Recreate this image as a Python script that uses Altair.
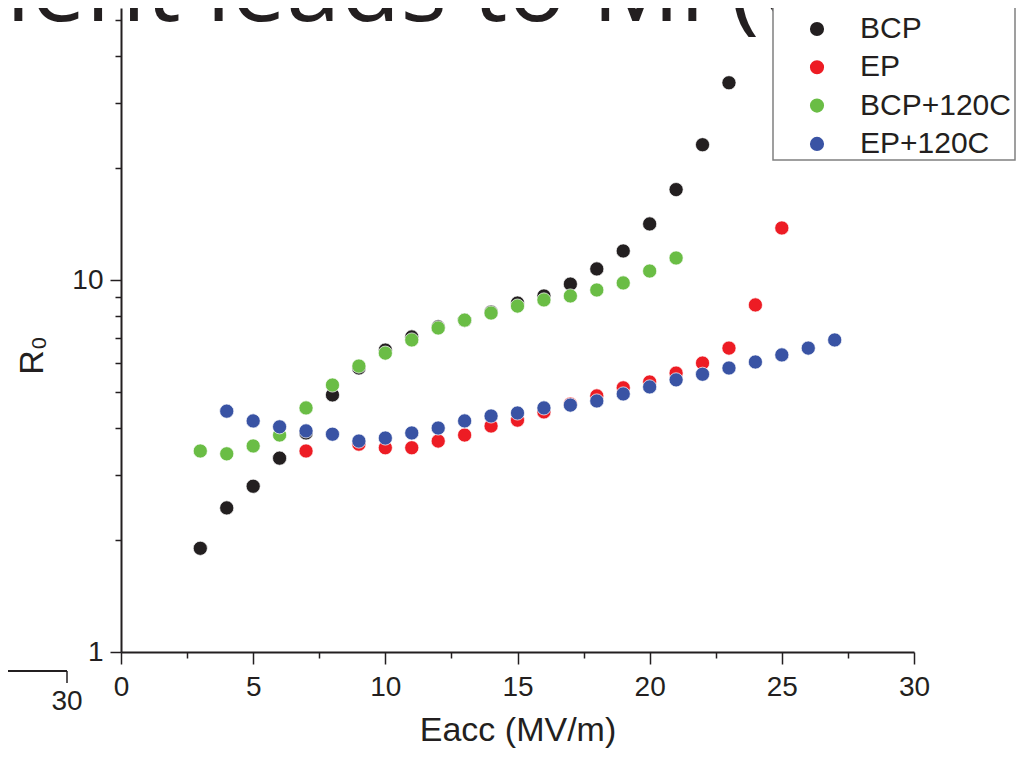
import altair as alt
import pandas as pd

series_names = ["BCP", "EP", "BCP+120C", "EP+120C"]
series_colors = ["#231f20", "#ed1c24", "#6abd45", "#3953a4"]

bcp_x = list(range(3, 24))
bcp_y = [1.90, 2.44, 2.79, 3.32, 3.88, 4.91, 5.80, 6.48, 7.03, 7.48, 7.80,
         8.20, 8.67, 9.06, 9.75, 10.71, 11.97, 14.15, 17.5, 23.1, 33.9]

ep_x = [7] + list(range(9, 26))
ep_y = [3.47, 3.62, 3.54, 3.54, 3.69, 3.83, 4.05, 4.20, 4.42, 4.64, 4.88,
        5.13, 5.32, 5.62, 5.98, 6.56, 8.57, 13.8]

bcp120_x = list(range(3, 22))
bcp120_y = [3.47, 3.41, 3.58, 3.83, 4.53, 5.22, 5.87, 6.36, 6.90, 7.43, 7.80,
            8.15, 8.51, 8.84, 9.06, 9.40, 9.82, 10.57, 11.46]

ep120_x = list(range(4, 28))
ep120_y = [4.44, 4.18, 4.03, 3.93, 3.85, 3.69, 3.76, 3.88, 4.00, 4.18, 4.31,
           4.39, 4.53, 4.61, 4.73, 4.94, 5.16, 5.39, 5.58, 5.80, 6.02, 6.29,
           6.56, 6.90]

x_tick_values = [0, 2.5, 5, 7.5, 10, 12.5, 15, 17.5, 20, 22.5, 25, 27.5, 30]
y_tick_values = [1, 2, 3, 4, 5, 6, 7, 8, 9, 10, 20, 30, 40, 50]

slide_title_fragment = ["ient leads to Mi (Q)"]
background_axis_label = ["30"]

rows = []
for name, xs, ys in [("BCP", bcp_x, bcp_y), ("EP", ep_x, ep_y),
                     ("BCP+120C", bcp120_x, bcp120_y), ("EP+120C", ep120_x, ep120_y)]:
    for xv, yv in zip(xs, ys):
        rows.append({"Eacc": xv, "R0": yv, "series": name})
df = pd.DataFrame(rows)

ink = "#231f20"

points = alt.Chart(df).mark_circle(size=200, opacity=1, stroke="white", strokeWidth=0.7).encode(
    x=alt.X("Eacc:Q",
            scale=alt.Scale(domain=[0, 30], nice=False, zero=False),
            axis=alt.Axis(
                values=x_tick_values,
                labelExpr="datum.value % 5 == 0 ? format(datum.value, 'd') : ''",
                tickSize={"condition": {"test": "datum.value % 5 == 0", "value": 12}, "value": 6},
                title="Eacc (MV/m)",
                grid=False, labelFlush=False, labelOverlap=False,
                domainColor=ink, domainWidth=2, tickColor=ink, tickWidth=1.5,
                labelColor=ink, labelFont="Liberation Sans", labelFontSize=28,
                labelPadding=9,
                titleColor=ink, titleFont="Liberation Sans", titleFontSize=34,
                titleFontWeight="normal", titlePadding=12,
            )),
    y=alt.Y("R0:Q",
            scale=alt.Scale(type="log", domain=[1, 53.85], nice=False, zero=False),
            axis=alt.Axis(
                values=y_tick_values,
                labelExpr="(datum.value == 1 || datum.value == 10) ? format(datum.value, 'd') : ''",
                tickSize={"condition": {"test": "datum.value == 1 || datum.value == 10", "value": 11}, "value": 6},
                title="R₀",
                grid=False, labelOverlap=False, labelFlush=False,
                domainColor=ink, domainWidth=2, tickColor=ink, tickWidth=1.5,
                labelColor=ink, labelFont="Liberation Sans", labelFontSize=28,
                labelPadding=7,
                titleColor=ink, titleFont="Liberation Sans", titleFontSize=34,
                titleFontWeight="normal", titleAngle=270,
                titleX=-89, titleY=347, titleAlign="center", titleBaseline="middle",
            )),
    color=alt.Color("series:N",
                    scale=alt.Scale(domain=series_names, range=series_colors),
                    sort=series_names,
                    legend=alt.Legend(
                        orient="none", legendX=646, legendY=-4, title=None,
                        padding=10, strokeColor="transparent",
                        symbolType="circle", symbolSize=200, symbolStrokeWidth=0,
                        symbolOffset=25, labelOffset=28, rowPadding=8.3,
                        labelFont="Liberation Sans", labelFontSize=30, labelColor=ink,
                        labelLimit=400,
                    )),
)

title_text = alt.Chart(pd.DataFrame({"t": slide_title_fragment})).mark_text(
    font="Open Sans", fontSize=98, color=ink, align="left", baseline="alphabetic"
).encode(x=alt.value(-115), y=alt.value(13), text="t:N")

legend_frame = alt.Chart(pd.DataFrame({"a": [0]})).mark_rect(
    fill="white", stroke="#808080", strokeWidth=1.5
).encode(x=alt.value(652), x2=alt.value(894), y=alt.value(-2), y2=alt.value(152))

bg_line = alt.Chart(pd.DataFrame({"a": [0]})).mark_rule(color=ink, strokeWidth=2).encode(
    x=alt.value(-113), x2=alt.value(-54), y=alt.value(663))
bg_tick = alt.Chart(pd.DataFrame({"a": [0]})).mark_rule(color=ink, strokeWidth=1.5).encode(
    x=alt.value(-54), y=alt.value(663), y2=alt.value(675))
bg_label = alt.Chart(pd.DataFrame({"t": background_axis_label})).mark_text(
    font="Liberation Sans", fontSize=28, color=ink, align="center", baseline="middle"
).encode(x=alt.value(-54), y=alt.value(694), text="t:N")

chart = alt.layer(title_text, bg_line, bg_tick, bg_label, points, legend_frame).properties(
    width=793, height=644,
    background="white",
    padding={"left": 113, "top": 0, "right": 103, "bottom": 97},
    autosize=alt.AutoSizeParams(type="none"),
).configure_view(strokeWidth=0, stroke=None)

chart.save("out.html", embed_options={"renderer": "svg", "actions": False})
